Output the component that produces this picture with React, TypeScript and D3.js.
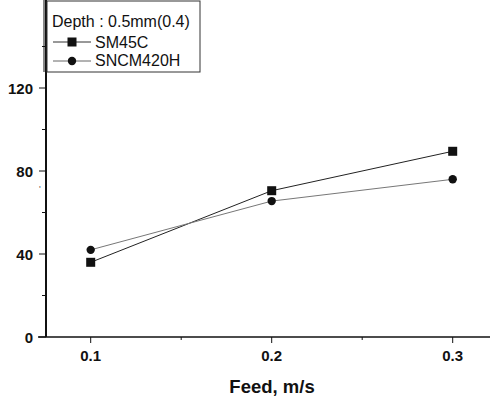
import React from "react";
import * as d3 from "d3";

const feeds = [0.1, 0.2, 0.3];
const sm45c = [36, 70.5, 89.5];
const sncm420h = [42, 65.5, 76];
const yTicks = [0, 40, 80, 120];
const yMinorTicks = [20, 60, 100, 140];
const xTicks = [0.1, 0.2, 0.3];
const xMinorTicks = [0.15, 0.25];
const legendTitle = "Depth : 0.5mm(0.4)";
const seriesNames = ["SM45C", "SNCM420H"];

const W = 490;
const H = 398;

export default function App() {
  const x = d3.scaleLinear().domain([0.1, 0.3]).range([90.7, 452.7]);
  const y = d3.scaleLinear().domain([0, 40]).range([337, 254]);
  const line = d3
    .line<number>()
    .x((_, i) => x(feeds[i]))
    .y((d) => y(d));
  const font = "'Liberation Sans', Arial, sans-serif";
  const ink = "#111";
  const x0 = 46;
  const y0 = y(0);

  return (
    <svg
      width={W}
      height={H}
      style={{ position: "absolute", left: 0, top: 0, background: "#fff" }}
      fontFamily={font}
    >
      <rect width={W} height={H} fill="#fff" />
      {/* axes */}
      <line x1={x0} x2={x0} y1={0} y2={y0} stroke={ink} strokeWidth={2} />
      <line x1={38} x2={W} y1={y0} y2={y0} stroke={ink} strokeWidth={1.6} />
      {yTicks.map((t) => (
        <g key={"yt" + t}>
          <line x1={x0 - 7} x2={x0} y1={y(t)} y2={y(t)} stroke={ink} strokeWidth={1} />
          <text x={33} y={y(t) + 5.5} textAnchor="end" fontSize={15} fontWeight="bold" fill={ink}>
            {t}
          </text>
        </g>
      ))}
      {yMinorTicks.map((t) => (
        <line key={"ym" + t} x1={x0 - 4} x2={x0} y1={y(t)} y2={y(t)} stroke={ink} strokeWidth={1} />
      ))}
      {xTicks.map((t) => (
        <g key={"xt" + t}>
          <line x1={x(t)} x2={x(t)} y1={y0} y2={y0 + 6} stroke={ink} strokeWidth={1} />
          <text x={x(t)} y={361} textAnchor="middle" fontSize={15} fontWeight="bold" fill={ink}>
            {d3.format(".1f")(t)}
          </text>
        </g>
      ))}
      {xMinorTicks.map((t) => (
        <line key={"xm" + t} x1={x(t)} x2={x(t)} y1={y0} y2={y0 + 3} stroke={ink} strokeWidth={1} />
      ))}
      <text x={272} y={393} textAnchor="middle" fontSize={18.5} fontWeight="bold" fill={ink}>
        Feed, m/s
      </text>
      <text x={39} y={192} fontSize={9} fill="#555">'</text>

      {/* series */}
      <path d={line(sm45c) || ""} fill="none" stroke="#222" strokeWidth={1} />
      <path d={line(sncm420h) || ""} fill="none" stroke="#777" strokeWidth={1} />
      {sm45c.map((v, i) => (
        <rect key={"s" + i} x={x(feeds[i]) - 4.5} y={y(v) - 4.5} width={9} height={9} fill={ink} />
      ))}
      {sncm420h.map((v, i) => (
        <circle key={"c" + i} cx={x(feeds[i])} cy={y(v)} r={4.2} fill={ink} />
      ))}

      {/* legend */}
      <rect x={47} y={1} width={153} height={71} fill="#fff" stroke="#333" strokeWidth={1} />
      <line x1={44} x2={44} y1={0} y2={72} stroke={ink} strokeWidth={1} />
      <text x={52} y={27} fontSize={16} fill={ink}>{legendTitle}</text>
      <line x1={53} x2={91} y1={42} y2={42} stroke="#333" strokeWidth={1} />
      <rect x={67.5} y={37.5} width={9} height={9} fill={ink} />
      <text x={95} y={47.5} fontSize={16} fill={ink}>{seriesNames[0]}</text>
      <line x1={53} x2={91} y1={61} y2={61} stroke="#666" strokeWidth={1} />
      <circle cx={72} cy={61} r={4.2} fill={ink} />
      <text x={95} y={66} fontSize={16} fill={ink}>{seriesNames[1]}</text>
    </svg>
  );
}
